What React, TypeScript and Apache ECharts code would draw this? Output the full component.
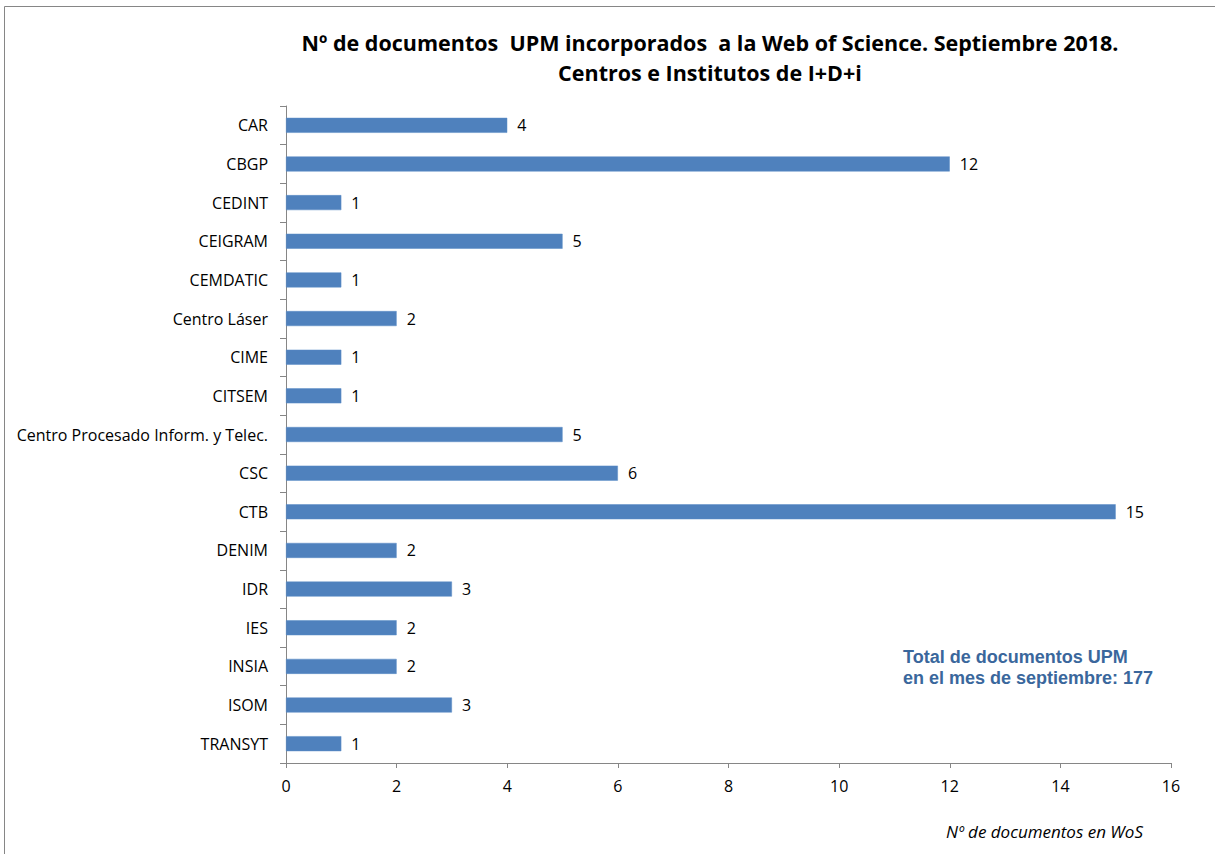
import React, { useEffect, useRef } from "react";
import * as echarts from "echarts";

const categories = [
  "CAR", "CBGP", "CEDINT", "CEIGRAM", "CEMDATIC", "Centro Láser", "CIME", "CITSEM",
  "Centro Procesado Inform. y Telec.", "CSC", "CTB", "DENIM", "IDR", "IES", "INSIA", "ISOM", "TRANSYT",
];
const values = [4, 12, 1, 5, 1, 2, 1, 1, 5, 6, 15, 2, 3, 2, 2, 3, 1];
const titleLines = [
  "Nº de documentos  UPM incorporados  a la Web of Science. Septiembre 2018.",
  "Centros e Institutos de I+D+i",
];
const noteLines = ["Total de documentos UPM", "en el mes de septiembre: 177"];
const axisTitle = "Nº de documentos en WoS";

const FONT = "'Open Sans', Lato, sans-serif";

export default function App() {
  const ref = useRef<HTMLDivElement>(null);
  useEffect(() => {
    document.body.style.margin = "0";
    const chart = echarts.init(ref.current!, null, { renderer: "svg" });
    chart.setOption({
      animation: false,
      backgroundColor: "#fff",
      textStyle: { fontFamily: FONT },
      grid: { left: 286, right: 44, top: 106, bottom: 91, containLabel: false, outerBoundsMode: "none" },
      xAxis: {
        type: "value",
        min: 0,
        max: 16,
        interval: 2,
        axisLine: { show: true, lineStyle: { color: "#868686" } },
        axisTick: { show: true, length: 5, lineStyle: { color: "#868686" } },
        splitLine: { show: false },
        axisLabel: { color: "#000", fontSize: 16, margin: 15, fontFamily: FONT },
      },
      yAxis: {
        type: "category",
        inverse: true,
        data: categories,
        axisLine: { show: true, lineStyle: { color: "#868686" } },
        axisTick: { show: true, length: 6, alignWithLabel: false, lineStyle: { color: "#868686" } },
        axisLabel: { color: "#000", fontSize: 16, margin: 18, align: "right", fontFamily: FONT },
      },
      series: [
        {
          type: "bar",
          data: values,
          barWidth: 15,
          itemStyle: { color: "#4F81BD", borderColor: "#5B8CC6", borderWidth: 0.5 },
          label: {
            show: true,
            position: "right",
            distance: 10,
            color: "#000",
            fontSize: 16,
            fontFamily: FONT,
          },
        },
      ],
      graphic: [
        {
          type: "rect",
          shape: { x: 4.5, y: 6.5, width: 1230, height: 900 },
          style: { fill: "none", stroke: "#868686", lineWidth: 1 },
          silent: true,
        },
        {
          type: "text",
          x: 710,
          y: 42,
          style: {
            text: titleLines[0],
            font: `bold 21.5px ${FONT}`,
            fill: "#000",
            align: "center",
            verticalAlign: "middle",
          },
        },
        {
          type: "text",
          x: 710,
          y: 72,
          style: {
            text: titleLines[1],
            font: `bold 21.5px ${FONT}`,
            fill: "#000",
            align: "center",
            verticalAlign: "middle",
          },
        },
        {
          type: "text",
          x: 903,
          y: 657,
          style: {
            text: noteLines[0],
            font: "bold 18px 'Liberation Sans', Arial, sans-serif",
            fill: "#3A679C",
            align: "left",
            verticalAlign: "middle",
          },
        },
        {
          type: "text",
          x: 903,
          y: 678,
          style: {
            text: noteLines[1],
            font: "bold 18px 'Liberation Sans', Arial, sans-serif",
            fill: "#3A679C",
            align: "left",
            verticalAlign: "middle",
          },
        },
        {
          type: "text",
          x: 1143,
          y: 831,
          style: {
            text: axisTitle,
            font: `italic 17px ${FONT}`,
            fill: "#000",
            align: "right",
            verticalAlign: "middle",
          },
        },
      ],
    });
    return () => chart.dispose();
  }, []);
  return <div ref={ref} style={{ width: 1215, height: 854 }} />;
}
